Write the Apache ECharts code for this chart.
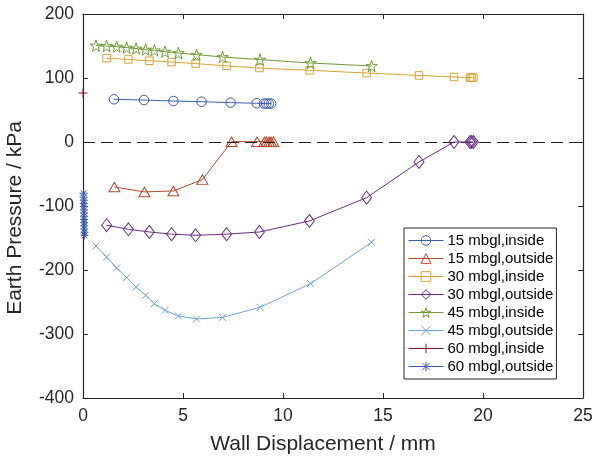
<!DOCTYPE html>
<html>
<head>
<meta charset="utf-8">
<script src="https://cdn.jsdelivr.net/npm/echarts@6/dist/echarts.min.js"></script>
<style>
  html, body { margin: 0; padding: 0; background: #fff; }
  #chart { width: 593px; height: 462px; }
</style>
</head>
<body>
<div id="chart"></div>
<script>
// Earth pressure against wall displacement, per depth and face
const seriesNames = [
  '15 mbgl,inside', '15 mbgl,outside',
  '30 mbgl,inside', '30 mbgl,outside',
  '45 mbgl,inside', '45 mbgl,outside',
  '60 mbgl,inside', '60 mbgl,outside'
];

// displacement (mm) / pressure (kPa) pairs
const in15x  = [1.55, 3.05, 4.52, 5.93, 7.38, 8.68, 9.05, 9.17, 9.29, 9.41];
const in15y  = [66.7, 65.6, 64.0, 63.0, 61.5, 60.5, 60.0, 60.0, 60.0, 60.0];
const out15x = [1.57, 3.07, 4.52, 5.97, 7.43, 8.70, 9.07, 9.18, 9.30, 9.40, 9.52];
const out15y = [-70.3, -78.0, -76.5, -58.8, 0.5, 0.5, 0.5, 0.5, 0.5, 0.5, 0.5];
const in30x  = [1.18, 2.27, 3.32, 4.43, 5.63, 7.18, 8.82, 11.33, 14.18, 16.80, 18.55, 19.35, 19.43, 19.52];
const in30y  = [131.0, 129.0, 127.0, 125.0, 122.5, 119.0, 115.6, 112.0, 107.8, 104.0, 101.6, 100.6, 100.6, 100.6];
const out30x = [1.18, 2.27, 3.32, 4.43, 5.63, 7.18, 8.82, 11.32, 14.18, 16.80, 18.55, 19.35, 19.43, 19.52];
const out30y = [-130.0, -136.4, -140.6, -144.0, -145.8, -144.0, -140.6, -123.4, -87.0, -31.2, 0.0, 0.0, 0.0, 0.0];
const in45x  = [0.65, 1.18, 1.68, 2.18, 2.65, 3.13, 3.57, 4.10, 4.77, 5.68, 6.98, 8.85, 11.38, 14.43];
const in45y  = [150.6, 150.0, 149.0, 147.5, 146.0, 144.4, 143.3, 141.2, 139.0, 136.5, 132.8, 128.7, 123.4, 118.8];
const out45x = [0.65, 1.18, 1.68, 2.18, 2.65, 3.13, 3.57, 4.10, 4.77, 5.68, 6.98, 8.85, 11.38, 14.43];
const out45y = [-162.5, -179.7, -196.9, -211.9, -226.6, -239.5, -252.5, -263.0, -271.9, -276.5, -274.0, -258.3, -221.3, -156.7];
const in60x  = [0.0];
const in60y  = [76.5];
const out60x = [0.03, 0.03, 0.04, 0.04, 0.04, 0.05, 0.05, 0.05, 0.05, 0.06, 0.06, 0.06, 0.07, 0.07];
const out60y = [-80, -86, -91, -96, -101, -106, -111, -116, -121, -126, -131, -136, -141, -146];

const xTicks = [0, 5, 10, 15, 20, 25];
const yTicks = [-400, -300, -200, -100, 0, 100, 200];

const colors = ['#3e5db0', '#b8482a', '#d8a232', '#6c2d83', '#6e9e35', '#6fa3db', '#7b1826', '#3a5aae'];

const STAR = 'path://M50 0 L61.8 35.1 L98.1 34.5 L69 56.3 L79.4 90.9 L50 70 L20.6 90.9 L31 56.3 L1.9 34.5 L38.2 35.1 Z';
const CROSS = 'path://M0 0 L100 100 M100 0 L0 100';
const PLUS = 'path://M50 0 L50 100 M0 50 L100 50';
const ASTER = 'path://M50 0 L50 100 M0 50 L100 50 M15 15 L85 85 M85 15 L15 85';

const symbols = ['circle', 'triangle', 'rect', 'diamond', STAR, CROSS, PLUS, ASTER];
const symbolSizes = [9.5, [11, 9.5], 7.5, [10, 13], 11.5, 7, 9, 8];

const xs = [in15x, out15x, in30x, out30x, in45x, out45x, in60x, out60x];
const ys = [in15y, out15y, in30y, out30y, in45y, out45y, in60y, out60y];

const pairs = (a, b) => a.map((v, i) => [v, b[i]]);

const FONT = '"Liberation Sans", Arial, Helvetica, sans-serif';
const TXT = '#262626';

const series = seriesNames.map((name, i) => ({
  name: name,
  type: 'line',
  data: pairs(xs[i], ys[i]),
  symbol: symbols[i],
  symbolSize: symbolSizes[i],
  showAllSymbol: true,
  clip: false,
  lineStyle: { color: colors[i], width: 1 },
  itemStyle: { color: 'none', borderColor: colors[i], borderWidth: 1 },
  emphasis: { disabled: true },
  animation: false,
  z: 3 + i
}));

// zero reference line
series[0].markLine = {
  silent: true,
  symbol: 'none',
  label: { show: false },
  lineStyle: { color: '#1a1a1a', type: [12, 6], width: 1.2 },
  data: [{ yAxis: 0 }],
  animation: false
};

const axisLine = { show: true, onZero: false, lineStyle: { color: TXT, width: 1.2 } };
const axisTick = { show: true, inside: true, length: 5, lineStyle: { color: TXT, width: 1 } };

const chart = echarts.init(document.getElementById('chart'), null, { renderer: 'canvas' });
chart.setOption({
  animation: false,
  backgroundColor: '#fff',
  grid: { left: 83, right: 10, top: 14, bottom: 64, outerBoundsMode: 'none' },
  legend: {
    data: seriesNames,
    orient: 'vertical',
    left: 404,
    top: 228,
    padding: [5, 3, 5, 4],
    itemWidth: 35,
    itemHeight: 12,
    itemGap: 3,
    backgroundColor: '#fff',
    borderColor: '#262626',
    borderWidth: 1,
    itemStyle: { borderWidth: 1 },
    lineStyle: { width: 1 },
    textStyle: { fontFamily: FONT, fontSize: 15, color: '#000', padding: [0, 0, 0, -1] },
    selectedMode: false
  },
  xAxis: [{
    type: 'value',
    min: xTicks[0],
    max: xTicks[xTicks.length - 1],
    interval: 5,
    name: 'Wall Displacement / mm',
    nameLocation: 'middle',
    nameGap: 36,
    nameTextStyle: { fontFamily: FONT, fontSize: 21, color: TXT, padding: [0, 20, 0, 0] },
    axisLine: axisLine,
    axisTick: axisTick,
    splitLine: { show: false },
    axisLabel: { fontFamily: FONT, fontSize: 17.5, color: TXT, margin: 9 }
  }, {
    type: 'value',
    position: 'top',
    min: xTicks[0],
    max: xTicks[xTicks.length - 1],
    interval: 5,
    axisLine: axisLine,
    axisTick: axisTick,
    splitLine: { show: false },
    axisLabel: { show: false }
  }],
  yAxis: [{
    type: 'value',
    min: yTicks[0],
    max: yTicks[yTicks.length - 1],
    interval: 100,
    name: 'Earth Pressure / kPa',
    nameLocation: 'middle',
    nameGap: 57,
    nameTextStyle: { fontFamily: FONT, fontSize: 21, color: TXT, padding: [0, 24, 0, 0] },
    axisLine: axisLine,
    axisTick: axisTick,
    splitLine: { show: false },
    axisLabel: { fontFamily: FONT, fontSize: 17.5, color: TXT, margin: 9 }
  }, {
    type: 'value',
    position: 'right',
    min: yTicks[0],
    max: yTicks[yTicks.length - 1],
    interval: 100,
    axisLine: axisLine,
    axisTick: axisTick,
    splitLine: { show: false },
    axisLabel: { show: false }
  }],
  series: series
});
</script>
</body>
</html>
